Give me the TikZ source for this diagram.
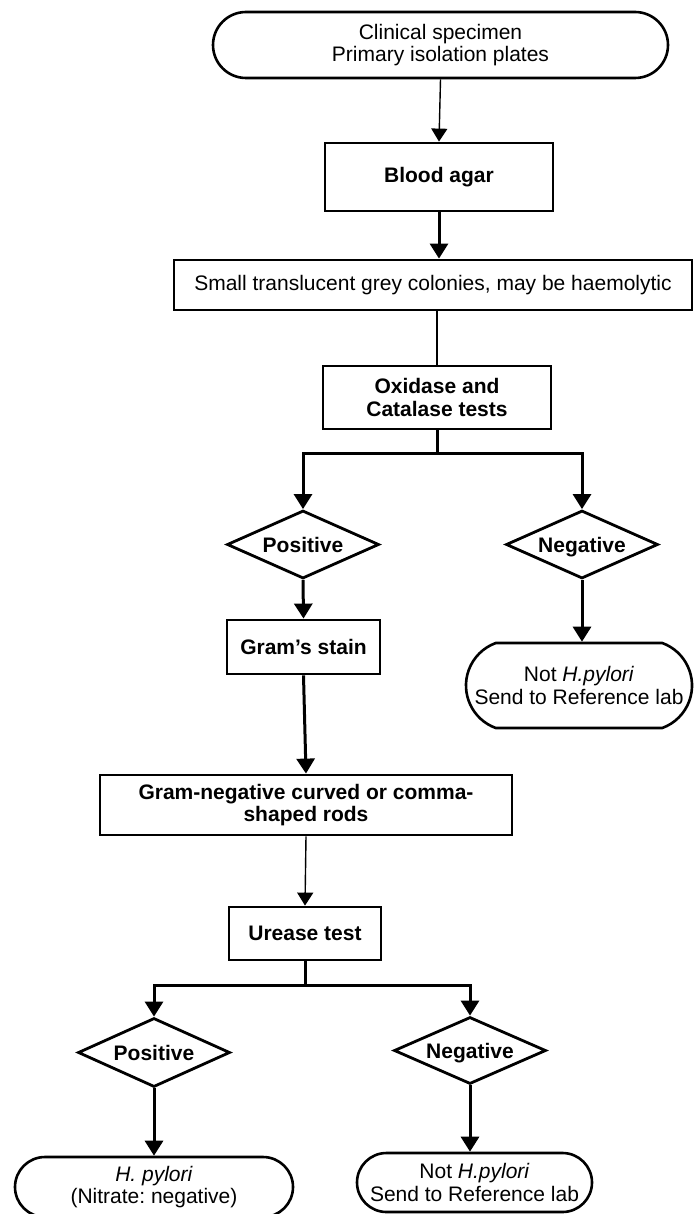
\documentclass[tikz,border=0pt]{standalone}
\usepackage{fontspec}
\setmainfont{Liberation Sans}
\frenchspacing
\usetikzlibrary{arrows.meta,shapes.geometric,shapes.misc}
\tikzset{
  txt/.style={font=\fontsize{21}{22.5}\selectfont, align=center, inner sep=0pt},
  boldtxt/.style={font=\fontsize{21}{22.5}\selectfont\bfseries},
  boxnode/.style={txt, draw, line width=2.8pt, fill=white, rectangle},
  termnode/.style={txt, draw, line width=2.6pt, fill=white, rounded rectangle},
  dianode/.style={txt, boldtxt, draw, line width=2.8pt, fill=white, diamond, aspect=2.2, minimum width=152pt, minimum height=68pt, text height=15pt, text depth=0pt},
  thickarr/.style={line width=3pt, -{Triangle[length=15pt,width=18pt]}},
  thinarr/.style={line width=1.4pt, -{Triangle[length=13pt,width=16pt]}},
  thickline/.style={line width=3pt},
  thinline/.style={line width=1.4pt}
}
\begin{document}
\begin{tikzpicture}[x=1pt,y=-1pt]
\useasboundingbox[fill=white] (0,0) rectangle (694,1214);

\node[termnode, minimum width=455pt, minimum height=66pt] (clin) at (440.5,45) {Clinical specimen\\Primary isolation plates};
\node[boxnode, boldtxt, minimum width=228pt, minimum height=68pt] (blood) at (439,177) {Blood agar};
\node[boxnode, minimum width=518pt, minimum height=50pt] (small) at (433,285) {Small translucent grey colonies, may be haemolytic};
\node[boxnode, boldtxt, minimum width=228pt, minimum height=63pt] (oxi) at (437,397.5) {Oxidase and\\Catalase tests};

\node[dianode] (posA) at (303,544.5) {Positive};
\node[dianode] (negA) at (582,544.5) {Negative};

\node[boxnode, boldtxt, minimum width=153pt, minimum height=54pt] (gram) at (303.5,647) {Gram’s stain};
\node[termnode, rounded rectangle arc length=140, minimum width=226pt, minimum height=85pt] (notA) at (579,685.5) {Not \textit{H.pylori}\\Send to Reference lab};

\node[boxnode, boldtxt, minimum width=412pt, minimum height=60pt] (gneg) at (306,805) {Gram-negative curved or comma-\\shaped rods};
\node[boxnode, boldtxt, minimum width=152pt, minimum height=53pt] (urease) at (305,933.5) {Urease test};

\node[dianode, minimum height=69pt] (posB) at (154,1052.5) {Positive};
\node[dianode, minimum height=67pt] (negB) at (470,1050.5) {Negative};

\node[termnode, minimum width=278pt, minimum height=60pt] (hp) at (154,1187) {\textit{H. pylori}\\(Nitrate: negative)};
\node[termnode, minimum width=235pt, minimum height=59pt] (notB) at (474.5,1182.5) {Not \textit{H.pylori}\\Send to Reference lab};

\coordinate (j1) at (437,453);
\coordinate (j2) at (305,985);

\draw[thinarr] (clin.south) -- (blood.north);
\draw[thickarr] (blood.south) -- (small.north -| blood.south);
\draw[thinline] (small.south -| oxi.north) -- (oxi.north);
\draw[thickline] (oxi.south) -- (j1);
\draw[thickarr] (j1) -| (posA.north);
\draw[thickarr] (j1) -| (negA.north);
\draw[thickarr] (posA.south) -- (gram.north);
\draw[thickarr] (negA.south) -- (notA.north -| negA.south);
\draw[thickarr] (gram.south) -- (gneg.north);
\draw[thinarr] (gneg.south) -- (urease.north);
\draw[thickline] (urease.south) -- (j2);
\draw[thickarr] (j2) -| (posB.north);
\draw[thickarr] (j2) -| (negB.north);
\draw[thickarr] (posB.south) -- (hp.north);
\draw[thickarr] (negB.south) -- (notB.north -| negB.south);
\end{tikzpicture}
\end{document}
